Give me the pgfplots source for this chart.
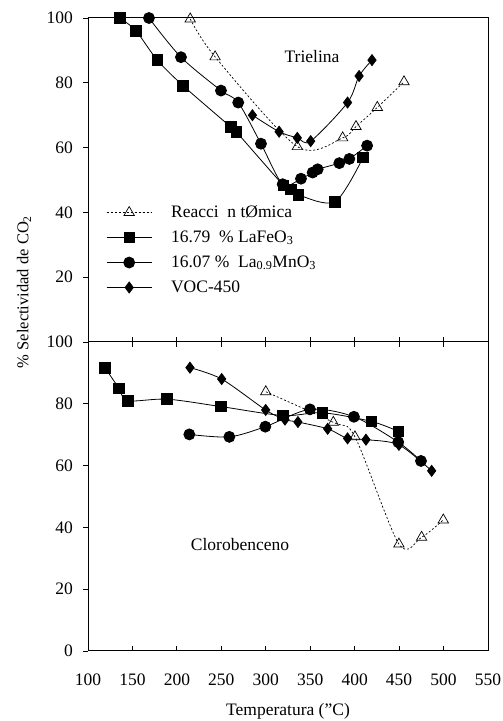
\documentclass[border=0pt]{standalone}
\usepackage{fontspec}
\setmainfont{Liberation Serif}
\usepackage{pgfplots}
\pgfplotsset{compat=1.18}
\newcommand{\fs}{\fontsize{17.5bp}{21bp}\selectfont}
\begin{document}
\fs
\begin{tikzpicture}
\useasboundingbox (0,0) rectangle (503bp,721bp);
\pgfplotsset{
  every axis/.append style={
    scale only axis, width=400bp,
    xmin=100, xmax=550, ymin=0, ymax=100,
    clip=false,
    axis line style={line width=1bp},
    every tick/.style={line width=0.9bp, black},
    major tick length=5bp,
    xtick={100,150,...,550},
    xtick align=inside, ytick align=outside,
    ytick pos=left,
    /pgf/number format/assume math mode=true,
    tick label style={font=\fs},
    yticklabel style={xshift=-4bp},
    xticklabel style={yshift=-17bp},
  },
  ser/.style={black, line width=0.8bp, smooth, tension=0.5},
  tri/.style={black, line width=0.7bp, dash pattern=on 2bp off 2bp, smooth, tension=0.5,
    mark=triangle, mark size=6bp, mark options={solid, fill=white, line width=0.7bp}},
  sq/.style={ser, mark=square*, mark size=5.3bp, mark options={solid}},
  ci/.style={ser, mark=*, mark size=5.5bp, mark options={solid}},
  di/.style={ser, mark=diamond*, mark size=5.5bp, mark options={solid}},
}
% ---------------- top panel: Trielina ----------------
\begin{axis}[at={(88bp,379bp)}, anchor=south west, height=324bp,
  ytick={20,40,60,80,100}, xticklabels={}, xtick pos=left,
  legend cell align=left,
  legend image code/.code={\draw[mark repeat=2, mark phase=2] plot coordinates {(0bp,0bp) (22.5bp,0bp) (45bp,0bp)};},
  legend style={draw=none, fill=none, font=\fs, at={(axis cs:117,43.5)}, anchor=north west,
    row sep=6.7bp, nodes={inner sep=2bp}, column sep=4bp,
    /tikz/every odd column/.append style={column sep=17bp}},
  legend entries={Reacci\ \ n tØmica, 16.79\ \ \% LaFeO\textsubscript{3}, 16.07 \%\ \ La\textsubscript{0.9}MnO\textsubscript{3}, VOC-450},
]
\addplot[tri] coordinates {(215,99.7) (243,88) (335.5,60.3) (386.5,63) (401.5,66.5) (425.5,72.4) (455.5,80.3)};
\addplot[sq] coordinates {(136,100) (154,96) (178,87) (207,79.1) (260.5,66.4) (267,64.8) (320,48.3) (328,47.1) (336.6,45.4) (378,43.3) (409.5,57)};
\addplot[ci] coordinates {(168.6,100) (204.6,87.9) (249.6,77.6) (269,73.9) (294.6,61.2) (319,48.7) (339.6,50.4) (352.7,52.3) (358.4,53.3) (382.7,55.2) (394,56.5) (414,60.6)};
\addplot[di] coordinates {(285,70) (315,64.9) (335.5,63) (350.5,62) (392,73.9) (405,82.1) (419.5,87)};
\node at (axis cs:352,88) {Trielina};
\end{axis}
% ---------------- bottom panel: Clorobenceno ----------------
\begin{axis}[at={(88bp,70bp)}, anchor=south west, height=309bp,
  ytick={0,20,40,60,80,100}, xtick pos=both,
]
\addplot[tri] coordinates {(300,83.9) (376,74) (400.3,69.3) (449.8,34.6) (475.3,36.8) (499.7,42.4)};
\addplot[sq] coordinates {(119,91.7) (134.9,85) (144.6,81) (189,81.5) (249.6,79.1) (319.5,76.2) (363.6,77.1) (418.7,74.3) (449,71.1)};
\addplot[ci] coordinates {(214,70.1) (259,69.3) (299.5,72.6) (349.7,78.2) (399.2,75.8) (449,67.6) (474.6,61.5)};
\addplot[di] coordinates {(214.7,91.7) (250.4,88) (299.9,78) (321.6,74.9) (336.2,74.1) (369.6,71.9) (392,68.8) (412.7,68.4) (449.8,66.7) (486.6,58.3)};
\node at (axis cs:271,34.3) {Clorobenceno};
\end{axis}
\node[rotate=90, font=\fontsize{16.5bp}{20bp}\selectfont] at (24bp,429bp) {\% Selectividad de CO\textsubscript{2}};
\node at (288bp,9.3bp) {Temperatura (”C)};
\end{tikzpicture}
\end{document}
